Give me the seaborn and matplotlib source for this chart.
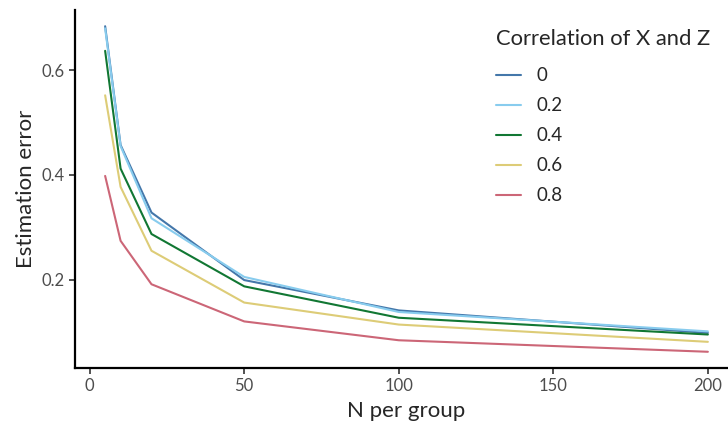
import numpy as np
import pandas as pd
import seaborn as sns
import matplotlib
matplotlib.use("Agg")
from matplotlib import pyplot as plt

n_per_group = [5, 10, 20, 50, 100, 200]
corr_levels = ["0", "0.2", "0.4", "0.6", "0.8"]
err_0 = [0.684, 0.457, 0.328, 0.199, 0.141, 0.098]
err_02 = [0.680, 0.455, 0.317, 0.205, 0.138, 0.101]
err_04 = [0.637, 0.412, 0.287, 0.187, 0.127, 0.095]
err_06 = [0.552, 0.377, 0.255, 0.156, 0.114, 0.081]
err_08 = [0.398, 0.274, 0.191, 0.120, 0.084, 0.062]
colors = ["#4477AA", "#88CCEE", "#117733", "#DDCC77", "#CC6677"]

rows = []
for lvl, errs in zip(corr_levels, [err_0, err_02, err_04, err_06, err_08]):
    for n, e in zip(n_per_group, errs):
        rows.append({"N per group": n, "Estimation error": e, "corr": lvl})
df = pd.DataFrame(rows)

sns.set_style("ticks")
plt.rcParams['font.family'] = ['Lato', 'DejaVu Sans']

fig = plt.figure(figsize=(7.28, 4.23), dpi=100)
ax = fig.add_axes([75 / 728, 55 / 423, 663 / 728, 358 / 423])

sns.lineplot(data=df, x="N per group", y="Estimation error", hue="corr",
             hue_order=corr_levels, palette=colors, linewidth=1.5, ax=ax)

ax.set_xlim(-4.75, 209.75)
ax.set_ylim(0.031, 0.715)
ax.set_xticks([0, 50, 100, 150, 200])
ax.set_yticks([0.2, 0.4, 0.6])
ax.set_yticklabels(["0.2", "0.4", "0.6"])
ax.set_xlabel("N per group", fontsize=16, labelpad=5)
ax.set_ylabel("Estimation error", fontsize=16, labelpad=4)
ax.tick_params(axis="both", labelsize=12, labelcolor="#4D4D4D", length=4,
               width=1.2, color="#333333")
for s in ["top", "right"]:
    ax.spines[s].set_visible(False)
for s in ["left", "bottom"]:
    ax.spines[s].set_linewidth(1.6)
    ax.spines[s].set_color("black")

leg = ax.legend(title="Correlation of X and Z", frameon=False, fontsize=13.5,
                title_fontsize=15.8, loc="upper left",
                bbox_to_anchor=(0.61, 0.993), handlelength=1.3,
                labelspacing=0.69, handletextpad=0.85)
leg._legend_box.align = "left"
leg._legend_box.sep = 13

fig.savefig("out.png", dpi=100)
plt.close(fig)
